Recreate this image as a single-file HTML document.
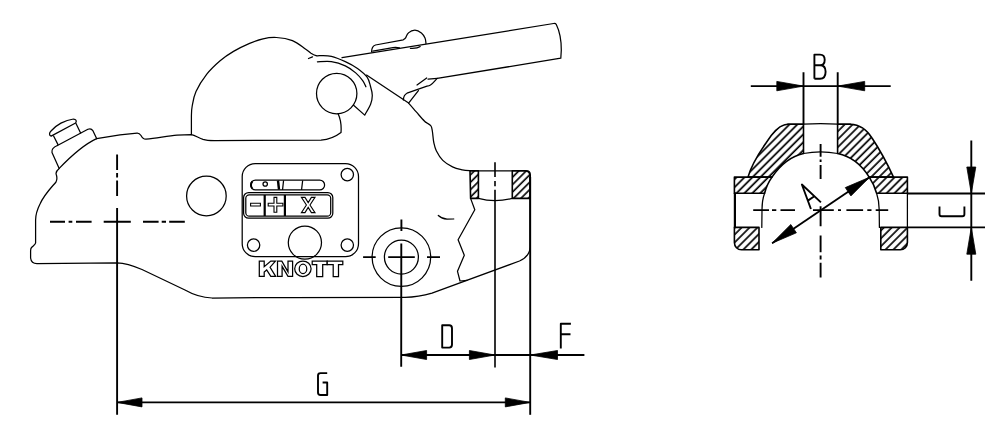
<!DOCTYPE html>
<html><head><meta charset="utf-8">
<style>
html,body{margin:0;padding:0;background:#fff;}
body{width:1004px;height:430px;overflow:hidden;font-family:"Liberation Sans",sans-serif;}
svg{display:block;}
.o{fill:none;stroke:#000;stroke-width:1.25;stroke-linejoin:round;stroke-linecap:round;}
.d{fill:none;stroke:#000;stroke-width:1.9;}
.c{fill:none;stroke:#000;stroke-width:1.9;}
.t{fill:none;stroke:#000;stroke-width:1.9;stroke-linejoin:round;}
.h{fill:url(#hat);stroke:#000;stroke-width:1.6;stroke-linejoin:round;}
.a{fill:#000;stroke:#000;stroke-width:0.8;stroke-linejoin:miter;}
</style></head>
<body>
<svg width="1004" height="430" viewBox="0 0 1004 430">
<defs>
<pattern id="hat" patternUnits="userSpaceOnUse" width="5.586" height="10" patternTransform="rotate(45)">
<line x1="3.889" y1="-1" x2="3.889" y2="11" stroke="#000" stroke-width="1.7"/>
</pattern>
<pattern id="hatb" patternUnits="userSpaceOnUse" width="5.233" height="10" patternTransform="rotate(45)">
<line x1="1.06" y1="-1" x2="1.06" y2="11" stroke="#000" stroke-width="1.65"/>
</pattern>
</defs>

<!-- ===== LEFT BODY ===== -->
<!-- knob cap -->
<path class="o" d="M51.1,136.1 C49,135.5 49,133 51,131 C56,125 65,120 73.5,119 C76,119 77,121 75.6,123 Z"/>
<!-- knob stem -->
<path class="o" d="M53.6,136 L58,144.6 M76,123.4 L80.6,133"/>
<!-- collar -->
<path class="o" d="M57.4,145.5 L87.9,129.3 C90,128.3 91.8,129 92.8,130.6 L96.6,138.6"/>
<path class="o" d="M57.4,145.5 C53.5,147 51.5,149.5 52,152.5 L59.2,168.4"/>
<!-- body outline -->
<path class="o" d="M96.6,138.6 C85,144 72,155 59.2,168.4 C56,171 55.5,173 56.4,175 C57.3,178 57,180 56,182 C50,189 44,195 40,204 C37,210 35.6,214 35.6,220 L35.6,243 C35.5,244.5 33,246 31.5,247.5 C30.6,248.5 30.6,249.5 30.6,251 L30.6,258 C31,261.5 33,263.7 37,263.7 L117.1,262.8 C126,263 134,266 142,269.5 L185,290 C192,294 200,297.5 212,298 L290,297.5 L405,297.3 C415,297.2 424,295.5 432,293.1 L519.5,261 C526,258 530,253.5 530,247 L530,176.5 C530,172.8 528,170.8 524.5,170.8 L470.4,170.8 C469.0,170.7 465.3,170.6 462.3,169.9 C459.3,169.2 455.8,168.5 452.5,166.9 C449.2,165.3 445.5,163.1 442.8,160.4 C440.1,157.7 437.8,153.7 436.3,150.7 C434.8,147.7 434.5,145.7 433.8,142.5 C433.1,139.3 432.9,134.2 432.4,131.5 C431.9,128.8 431.9,127.4 431.0,126.0 C430.1,124.6 428.4,124.0 427.3,123.2 C426.2,122.4 426.1,122.7 424.6,121.2 C423.1,119.8 420.3,116.6 418.5,114.5 C416.7,112.4 415.2,110.7 413.6,108.8 C412.0,106.9 409.4,104.0 408.6,103.1 L366.5,75.1"/>
<!-- body top line & dome bottom -->
<path class="o" d="M96.6,138.6 L120,134.9 L137.1,133.1 C139,133 140,134 141,135.5 C142,137.5 143.5,139.3 146,139.2 C158,138 168,135.8 177,135.2 L191.4,134.6 C195,135.5 199,138 203,139.3 C206,140.2 209,140.5 214.2,140.5 L321,140.1 C329,139.6 336,136.5 341,132.6 C341.5,126 341,120 338.1,113.8"/>
<!-- dome -->
<path class="o" d="M191.4,134.6 L191.4,116.0 C191.5,114.3 191.4,110.1 192.2,106.0 C193.0,101.9 193.6,96.9 196.0,91.6 C198.4,86.3 202.8,79.3 206.8,74.2 C210.8,69.1 215.7,64.6 220.1,60.8 C224.5,57.0 228.6,54.3 233.5,51.4 C238.4,48.5 244.7,45.5 249.6,43.4 C254.5,41.3 258.5,39.8 263.0,38.8 C267.5,37.8 271.5,37.2 276.4,37.5 C281.3,37.8 287.6,38.8 292.4,40.7 C297.2,42.6 301.9,46.6 305.0,48.7 C308.1,50.8 309.2,52.1 311.0,53.3 C312.8,54.4 314.5,55.2 316.0,55.6 C317.5,56.0 319.3,55.6 320.0,55.6 C322.6,55.7 327.2,55.3 331.4,56.3 C335.6,57.3 340.9,59.6 345.3,61.6 C349.7,63.6 353.9,65.9 357.5,68.5 C361.1,71.1 364.9,74.2 367.1,77.2 C369.3,80.2 369.7,83.8 370.6,86.8 C371.5,89.8 372.3,92.6 372.3,95.5 C372.3,98.4 371.9,100.9 370.6,104.2 C369.3,107.5 365.7,113.3 364.7,115.1 L353.6,105.3"/>
<path class="o" d="M317.4,61.8 C319.7,61.8 326.8,60.9 331.4,61.6 C336.0,62.3 341.2,64.0 345.3,65.9 C349.4,67.8 352.8,70.4 355.7,72.9 C358.6,75.4 361.0,78.4 362.7,80.7 C364.4,83.0 365.4,85.8 365.9,86.8"/>
<path class="o" d="M308.5,58.5 L312.5,56.8"/>
<circle class="o" cx="336.7" cy="93.6" r="20.2"/>
<!-- handle -->
<path class="o" d="M342,57.7 L553.6,23.5 C555,23.3 555.8,23.6 556.3,24.5 C559.5,31 561.3,40 561.3,50 L560.8,58.2 L437.2,78.4 C435,80.5 433,83.5 430.5,85 C429.5,85.6 428,86 427,86.2 L407,93.2 C405,94.2 403.5,96.5 403.4,100"/>
<path class="o" d="M428.1,79.1 L437.2,78.4"/>
<path class="o" d="M417,85 L426.7,78"/>
<path class="o" d="M408.6,103.1 L418.4,90.6"/>
<!-- handle clip -->
<path class="o" d="M371.6,51.8 C371.6,48.5 372.5,46 375.5,45 L403.3,39.8 C403.7,39.5 404.8,38.9 405.6,37.8 C406.5,36.6 406.8,34.2 408.4,32.9 C409.9,31.6 412.7,30.2 414.9,30.2 C417.1,30.2 419.7,31.6 421.4,32.9 C423.1,34.2 424.2,36.2 425.0,38.0 C425.8,39.8 425.8,42.6 426.0,43.5"/>
<path class="o" d="M372.8,51.1 L392.9,47.6 C395,47.3 397.5,47.4 399.4,47.9"/>
<path class="o" d="M410.4,48.4 C414,48.6 418,48.2 420.2,46.6"/>

<!-- hatched section in body -->
<path class="h" style="fill:url(#hatb)" d="M470,170.8 L478.4,170.8 L478.4,198.4 L470.6,198.4 Z"/>
<path class="h" style="fill:url(#hatb)" d="M512.3,170.8 L526,170.8 C528.5,170.8 530.2,172.5 530.2,175 L530.2,198.4 L512.3,198.4 Z"/>
<path class="o" d="M478.4,198.4 C490,201.5 500,201.5 512.3,198.4"/>
<!-- break line -->
<path class="o" d="M470.6,198.4 L474.8,209.7 L458.1,239.8 L464.3,255.3 L457.5,271.3 L460,281 L467.1,280.3"/>
<path class="o" d="M438.3,215.5 C441,218 444,219 447,219.2 L453.7,219"/>

<!-- plate -->
<rect class="o" x="242.2" y="163.6" width="116.3" height="93.1" rx="13" ry="13"/>
<circle class="o" cx="347.3" cy="174.6" r="6.2"/>
<circle class="o" cx="253.6" cy="245.1" r="6.2"/>
<circle class="o" cx="347.3" cy="245.1" r="6.2"/>
<circle class="o" cx="304.9" cy="242.6" r="16.6"/>
<circle class="o" cx="206.4" cy="196" r="19.8"/>
<!-- slider -->
<rect class="o" x="250.6" y="180.1" width="74" height="9.8" rx="4.9" ry="4.9"/>
<path d="M252.5,181.5 C250.6,183 250.6,187 252.5,188.6" stroke="#000" stroke-width="1.8" fill="none"/>
<circle class="o" cx="265.2" cy="184" r="2.2"/>
<path d="M278,180.5 L279,189.6" stroke="#000" stroke-width="2.4" fill="none"/>
<path class="o" d="M283.5,181 L282.6,189.4 M302.6,181 L301.6,189.4"/>
<!-- buttons -->
<rect class="o" x="243.6" y="192.5" width="89.2" height="25.7" rx="5" ry="5"/>
<rect class="o" x="245.8" y="194.8" width="84.9" height="21.4" rx="3.5" ry="3.5"/>
<path d="M264.7,195 L264.7,216 M284.9,195 L284.9,216" stroke="#000" stroke-width="2.2" fill="none"/>
<g fill="#fff" stroke="#000" stroke-width="1.1">
<path d="M250.6,203.2 L260.4,203.2 L260.4,206 L250.6,206 Z"/>
<path d="M274,197.4 L276.8,197.4 L276.8,203.2 L282.9,203.2 L282.9,206 L276.8,206 L276.8,212.3 L274,212.3 L274,206 L268.2,206 L268.2,203.2 L274,203.2 Z"/>
<path d="M301.4,197.4 L305,197.4 L308.2,202.6 L311.4,197.4 L315,197.4 L310,205 L315,212.6 L311.4,212.6 L308.2,207.4 L305,212.6 L301.4,212.6 L306.4,205 Z"/>
</g>
<!-- KNOTT -->
<g fill="#fff" stroke="#000" stroke-width="1.25" stroke-linejoin="miter">
<path d="M259.3,261.1 L264.2,261.1 L264.2,266.7 L270.8,261.1 L275.4,261.1 L270.1,267.2 L275.7,276.4 L270.8,276.4 L266.7,270 L264.2,272.1 L264.2,276.4 L259.3,276.4 Z"/>
<path d="M277.5,261.1 L281.8,261.1 L288,271.8 L288,261.1 L292.6,261.1 L292.6,276.4 L288,276.4 L282.1,266.4 L282.1,276.4 L277.5,276.4 Z"/>
<path fill-rule="evenodd" d="M294.7,268.8 A8.2,7.8 0 1 0 311.1,268.8 A8.2,7.8 0 1 0 294.7,268.8 Z M299.25,268.9 A3.75,4.7 0 1 0 306.75,268.9 A3.75,4.7 0 1 0 299.25,268.9 Z"/>
<path d="M312.2,261 L327.2,261 L327.2,264.7 L322.7,264.7 L322.7,276.6 L316.7,276.6 L316.7,264.7 L312.2,264.7 Z"/>
<path d="M327.2,261 L342.8,261 L342.8,264.7 L338.5,264.7 L338.5,276.6 L333.2,276.6 L333.2,264.7 L327.2,264.7 Z"/>
</g>

<!-- centerlines left body -->
<path class="c" d="M117.1,154.4 L117.1,170 M117.1,173 L117.1,177.4 M117.1,180.5 L117.1,196 M117.1,208 L117.1,414.8"/>
<path class="c" d="M50,221.8 L65,221.8 M68.6,221.8 L72.3,221.8 M76,221.8 L91.6,221.8 M103.7,221.8 L130.8,221.8 M143,221.8 L158.6,221.8 M161.7,221.8 L166,221.8 M169.2,221.8 L184.8,221.8"/>
<!-- crosshair circle -->
<circle class="o" cx="401.4" cy="257.1" r="29.3"/>
<circle class="o" cx="401.4" cy="257.1" r="17.0"/>
<path class="c" d="M363.1,257.1 L375.7,257.1 M388.2,257.1 L414.8,257.1 M427,257.1 L440,257.1 M401.4,219.4 L401.4,230.9 M401.3,243.5 L401.2,366.7"/>
<!-- vertical centre of hatched section -->
<path class="c" style="stroke-width:1.6" d="M495,162.3 L495,176.9 M495,180.9 L495,186.2 M495,189.7 L495,367.5"/>
<!-- right ext line -->
<path class="c" d="M530.2,177 L530.2,414.8"/>

<!-- dimension lines -->
<path class="d" d="M117.1,402.4 L530.2,402.4"/>
<polygon class="a" points="117.1,402.4 142,397.9 142,406.9"/>
<polygon class="a" points="530.2,402.4 505.3,397.9 505.3,406.9"/>
<path class="d" d="M401.1,355 L584.4,355"/>
<polygon class="a" points="401.1,355 426.6,350.5 426.6,359.5"/>
<polygon class="a" points="494.9,355 469.4,350.5 469.4,359.5"/>
<polygon class="a" points="530.3,355 557.5,350.5 557.5,359.5"/>
<!-- letters -->
<path class="t" d="M442.2,325.3 L442.2,347.6 L449.2,347.6 C451.2,347.6 452,346.5 452,344.5 L452,328.4 C452,326.4 451.2,325.3 449.2,325.3 Z"/>
<path class="t" d="M560.8,348.5 L560.8,323.7 L570.9,323.7 M560.8,334.2 L570.5,334.2"/>
<path class="t" d="M327.2,373.1 L320.5,373.1 C318.8,373.1 318,374 318,375.6 L318,392.5 C318,394.2 318.8,395 320.5,395 L327.2,395 L327.2,382.5 L322.6,382.5"/>

<!-- ===== RIGHT SECTION ===== -->
<!-- hatched upper body -->
<path class="h" d="M803.5,124.2 L803.5,153.5 C792,156 781,164 772,177.1 L748,177.1 C750,170 757,156 766,143 C772,133.5 778,126.5 784,125 C786,124.4 787,124.2 787.8,124.2 Z"/>
<path class="h" d="M837.6,124.2 L850.5,124.2 C860,124.5 867,130 872,138 C880,150 887,163 893.5,177.1 L869.2,177.1 C861,164 850,156 837.6,153.5 Z"/>
<path class="o" d="M803.5,153.5 C815,151.3 826,151.3 837.6,153.5"/>
<path class="o" d="M787.8,124.2 L803.5,124.2 Q820.6,123 837.6,124.2 L850.5,124.2"/>
<!-- flanges -->
<path class="h" d="M734.4,177.1 L772,177.1 C768.5,182 766,187.5 764.6,193.3 L734.4,193.3 Z"/>
<path class="h" d="M734.4,227.4 L759,227.4 L759,249.8 L741.5,249.8 C737.5,249.8 734.4,246.6 734.4,242.5 Z"/>
<path class="o" style="stroke-width:2.2" d="M734.9,193.3 L734.9,227.4"/>
<path class="o" d="M764.6,193.3 C762.5,199 762,204 762,209.8 L761.8,227.4"/>
<path class="h" d="M869.2,177.1 L907.4,177.1 L907.4,193.3 L876.6,193.3 C875,187.5 872.5,182 869.2,177.1 Z"/>
<path class="h" d="M880.8,227.4 L907.4,227.4 L907.4,242.5 C907.4,246.6 904.3,249.8 900.3,249.8 L880.8,249.8 Z"/>
<path class="o" d="M907.4,193.3 L907.4,227.4 M876.6,193.3 C878.5,199 879.2,204 879.2,209.8 L879.4,227.4"/>
<!-- B dims -->
<path class="d" d="M803.5,72.3 L803.5,124.2 M837.7,72.3 L837.7,124.2 M750.8,86.1 L890.7,86.1"/>
<polygon class="a" points="803.5,86.1 776.8,81.4 776.8,90.8"/>
<polygon class="a" points="837.7,86.1 864.7,81.4 864.7,90.8"/>
<path class="t" transform="translate(0,0.8)" d="M814.4,78 L814.4,53.8 L820,53.8 C823,53.8 824.7,55.8 824.7,59 C824.7,62.4 823,64.5 820,64.5 L814.4,64.5 M820,64.5 C823.8,64.5 825.6,67 825.6,71 C825.6,75.5 823.8,78 820,78 L814.4,78"/>
<!-- C dims -->
<path class="d" d="M907.4,193.5 L985,193.5 M907.4,227.4 L985,227.4 M971.3,140.4 L971.3,280.8"/>
<polygon class="a" points="971.3,193.5 966.8,167 975.8,167"/>
<polygon class="a" points="971.3,227.4 966.8,254.2 975.8,254.2"/>
<path class="t" d="M939.5,206.5 L939.5,214.3 C939.5,215.6 940.2,216.3 941.5,216.3 L962.4,216.3 C963.7,216.3 964.4,215.6 964.4,214.3 L964.4,206.5"/>
<!-- centerlines right -->
<path class="c" d="M820.6,144 L820.6,156.7 M820.6,159.5 L820.6,162 M820.6,165 L820.6,179 M820.6,206.3 L820.6,226.2 M820.6,235.6 L820.6,252.3 M820.6,255.4 L820.6,259.6 M820.6,262.8 L820.6,277.4"/>
<path class="c" d="M753.2,210.1 L769,210.1 M772,210.1 L776.3,210.1 M780.5,210.1 L795,210.1 M813,210.1 L833.8,210.1 M838,210.1 L841,210.1 M846.4,210.1 L863.1,210.1 M867.3,210.1 L871.5,210.1 M875.7,210.1 L888.2,210.1"/>
<!-- A dimension -->
<path class="d" d="M772.1,243.2 L869.6,177.2"/>
<polygon class="a" points="772.1,243.2 796.4,232.8 790.8,224.5"/>
<polygon class="a" points="869.6,177.2 850.9,195.9 845.3,187.6"/>
<g transform="translate(808.9,195.1) rotate(-33.6)">
<path class="t" d="M-6,12.7 L0,-12.7 L6,12.7 M-3.9,4 L3.9,4"/>
</g>
</svg>
</body></html>
